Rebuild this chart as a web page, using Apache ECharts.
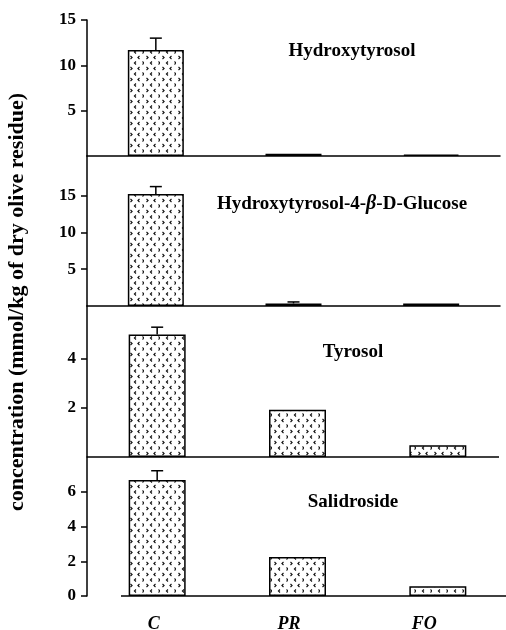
<!DOCTYPE html>
<html>
<head>
<meta charset="utf-8">
<script src="https://cdn.jsdelivr.net/npm/echarts@6/dist/echarts.min.js"></script>
<style>html,body{margin:0;padding:0;background:#fff;}#c{width:506px;height:630px;}</style>
</head>
<body>
<div id="c"></div>
<script>
// ---- data ----
const categories = ['C', 'PR', 'FO'];
const hydroxytyrosol = [11.7, 0.25, 0.15];
const hydroxytyrosolErr = [1.3, 0, 0];
const htGlucoside = [15.2, 0.35, 0.35];
const htGlucosideErr = [1.0, 0.2, 0];
const tyrosol = [4.97, 1.92, 0.48];
const tyrosolErr = [0.3, 0, 0];
const salidroside = [6.68, 2.25, 0.56];
const salidrosideErr = [0.53, 0, 0];
const yTicks1 = [5, 10, 15];
const yTicks2 = [5, 10, 15];
const yTicks3 = [2, 4];
const yTicks4 = [0, 2, 4, 6];
const panelTitles = ['Hydroxytyrosol', '{a|Hydroxytyrosol-4-}{b|β}{a|-D-Glucose}', 'Tyrosol', 'Salidroside'];
const yTitle = 'concentration (mmol/kg of dry olive residue)';

// ---- styling / layout ----
const FONT = '"Liberation Serif", "Times New Roman", serif';
function makePattern() {
  const c = document.createElement('canvas');
  c.width = 16; c.height = 11;
  const g = c.getContext('2d');
  g.fillStyle = '#fff'; g.fillRect(0, 0, 16, 11);
  g.strokeStyle = '#111'; g.lineWidth = 1.1;
  function chev(x, y, dir) {
    g.beginPath();
    g.moveTo(x, y - 1.5); g.lineTo(x + 1.6 * dir, y); g.lineTo(x, y + 1.5);
    g.stroke();
  }
  chev(2.5, 2.5, 1); chev(11.5, 2.5, -1); chev(8, 8, -1); chev(14.5, 8, 1);
  return c;
}
const pattern = makePattern();

const grids = [
  { left: 87, top: 20, width: 413, height: 136, outerBoundsMode: 'none' },
  { left: 87, top: 156, width: 413, height: 150, outerBoundsMode: 'none' },
  { left: 87, top: 306, width: 421, height: 151, outerBoundsMode: 'none' },
  { left: 87, top: 457, width: 421, height: 139, outerBoundsMode: 'none' },
  { left: 86, top: 457, width: 406, height: 139, outerBoundsMode: 'none' }  // label-only axis
];
const yMax = [15, 20.35, 6.13, 8.0];
const yTicks = [yTicks1, yTicks2, yTicks3, yTicks4];
const values = [hydroxytyrosol, htGlucoside, tyrosol, salidroside];
const errs = [hydroxytyrosolErr, htGlucosideErr, tyrosolErr, salidrosideErr];
const barW = [56, 56, 57, 57];

const xAxes = [], yAxes = [], series = [];
for (let i = 0; i < 4; i++) {
  xAxes.push({
    type: 'category', gridIndex: i, data: categories,
    axisLine: { show: i < 2, lineStyle: { color: '#000', width: 1.5 } },
    axisTick: { show: false }, axisLabel: { show: false }
  });
  yAxes.push({
    type: 'value', gridIndex: i, min: 0, max: yMax[i],
    splitLine: { show: false },
    axisLine: { show: true, lineStyle: { color: '#000', width: 1.5 } },
    axisTick: { show: true, length: 6, customValues: yTicks[i], lineStyle: { color: '#000', width: 1.5 } },
    axisLabel: { customValues: yTicks[i], color: '#000', fontFamily: FONT, fontWeight: 'bold', fontSize: 17, margin: 11 }
  });
  series.push({
    type: 'bar', xAxisIndex: i, yAxisIndex: i, barWidth: barW[i],
    data: values[i],
    itemStyle: { color: { image: pattern, repeat: 'repeat' }, borderColor: '#000', borderWidth: 1.5 },
    silent: true
  });
  series.push({
    type: 'custom', xAxisIndex: i, yAxisIndex: i, z: 5,
    data: categories.map((c, j) => [j, values[i][j], errs[i][j]]),
    encode: { x: 0, y: 1 },
    renderItem: function (params, api) {
      const e = api.value(2);
      if (!e) return null;
      const x = api.value(0), v = api.value(1);
      const p0 = api.coord([x, v]);
      const p1 = api.coord([x, v + e]);
      return {
        type: 'group', children: [
          { type: 'line', shape: { x1: p0[0], y1: p0[1], x2: p1[0], y2: p1[1] }, style: { stroke: '#000', lineWidth: 1.5 } },
          { type: 'line', shape: { x1: p1[0] - 6, y1: p1[1], x2: p1[0] + 6, y2: p1[1] }, style: { stroke: '#000', lineWidth: 1.5 } }
        ]
      };
    }
  });
}
// label-only x axis for category names
xAxes.push({
  type: 'category', gridIndex: 4, data: categories,
  axisLine: { show: false }, axisTick: { show: false },
  axisLabel: { color: '#000', fontFamily: FONT, fontWeight: 'bold', fontStyle: 'italic', fontSize: 18, margin: 19 }
});
yAxes.push({ type: 'value', gridIndex: 4, show: false, min: 0, max: 1 });

const titleY = [51, 204, 352, 502];
const titleX = [352, 342, 353, 353];
const graphics = panelTitles.map((t, i) => ({
  type: 'text', x: titleX[i], y: titleY[i], z: 10,
  style: {
    text: t, fill: '#000',
    font: 'bold 19px ' + FONT,
    fontFamily: FONT, fontWeight: 'bold', fontSize: 19,
    align: 'center', verticalAlign: 'middle', textAlign: 'center', textVerticalAlign: 'middle',
    rich: {
      a: { fontFamily: FONT, fontWeight: 'bold', fontSize: 19, fill: '#000' },
      b: { fontFamily: FONT, fontWeight: 'bold', fontStyle: 'italic', fontSize: 20, fill: '#000' }
    }
  }
}));
graphics.push({
  type: 'text', x: 17, y: 302, rotation: Math.PI / 2, z: 10,
  style: {
    text: yTitle, fill: '#000', font: 'bold 22px ' + FONT,
    align: 'center', verticalAlign: 'middle', textAlign: 'center', textVerticalAlign: 'middle'
  }
});
// baselines of lower two panels (axis decoration)
graphics.push({ type: 'line', z: 10, shape: { x1: 87, y1: 457, x2: 499, y2: 457 }, style: { stroke: '#000', lineWidth: 1.5 } });
graphics.push({ type: 'line', z: 10, shape: { x1: 121, y1: 596, x2: 506, y2: 596 }, style: { stroke: '#000', lineWidth: 1.5 } });

const chart = echarts.init(document.getElementById('c'), null, { renderer: 'canvas' });
chart.setOption({
  animation: false,
  backgroundColor: '#fff',
  grid: grids,
  xAxis: xAxes,
  yAxis: yAxes,
  series: series,
  graphic: graphics
});
</script>
</body>
</html>
